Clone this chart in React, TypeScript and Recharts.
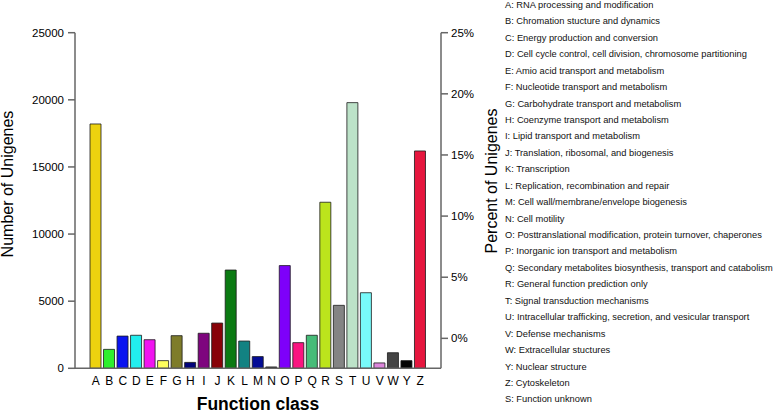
import React from 'react';
import { ComposedChart, Bar, XAxis, YAxis, Cell, Label } from 'recharts';

const categories = ['A', 'B', 'C', 'D', 'E', 'F', 'G', 'H', 'I', 'J', 'K', 'L', 'M', 'N', 'O', 'P', 'Q', 'R', 'S', 'T', 'U', 'V', 'W', 'Y', 'Z'];
const counts = [18200, 1410, 2400, 2460, 2130, 570, 2430, 440, 2610, 3370, 7320, 2030, 870, 100, 7650, 1910, 2460, 12370, 4690, 19790, 5630, 400, 1160, 570, 16190];
const colors = ['#EDD20F', '#2EF02E', '#0A14F0', '#22EEEE', '#F014F0', '#FFFF5C', '#7E7C2A', '#02047A', '#7E057E', '#880208', '#0B7A12', '#128282', '#040C96', '#222222', '#7E00FA', '#FA1480', '#46BC78', '#BCE41C', '#848484', '#BCE2C8', '#78FAFA', '#DC86DC', '#444444', '#050505', '#E6163E'];
const countTicks = [0, 5000, 10000, 15000, 20000, 25000];
const percentTicks = [0, 5, 10, 15, 20, 25];
const descriptions = [
  'A: RNA processing and modification',
  'B: Chromation stucture and dynamics',
  'C: Energy production and conversion',
  'D: Cell cycle control, cell division, chromosome partitioning',
  'E: Amio acid transport and metabolism',
  'F: Nucleotide transport and metabolism',
  'G: Carbohydrate transport and metabolism',
  'H: Coenzyme transport and metabolism',
  'I: Lipid transport and metabolism',
  'J: Translation, ribosomal, and biogenesis',
  'K: Transcription',
  'L: Replication, recombination and repair',
  'M: Cell wall/membrane/envelope biogenesis',
  'N: Cell motility',
  'O: Posttranslational modification, protein turnover, chaperones',
  'P: Inorganic ion transport and metabolism',
  'Q: Secondary metabolites biosynthesis, transport and catabolism',
  'R: General function prediction only',
  'T: Signal transduction mechanisms',
  'U: Intracellular trafficking, secretion, and vesicular transport',
  'V: Defense mechanisms',
  'W: Extracellular stuctures',
  'Y: Nuclear structure',
  'Z: Cytoskeleton',
  'S: Function unknown',
];

const data = categories.map((c, i) => ({ cat: c, count: counts[i] }));

const FONT = '"Liberation Sans", Arial, sans-serif';
const AXIS = '#666666';

const LeftTitle = (props: any) => {
  const vb = props.viewBox || { x: 0, y: 0, width: 0, height: 0 };
  const x = 13;
  const y = vb.y + vb.height / 2 - 16.5;
  return (
    <text x={x} y={y} transform={`rotate(-90, ${x}, ${y})`} textAnchor="middle" fontSize={16} fill="#000" fontFamily={FONT}>
      Number of Unigenes
    </text>
  );
};

const RightTitle = (props: any) => {
  const vb = props.viewBox || { x: 0, y: 0, width: 0, height: 0 };
  const x = vb.x + vb.width - 4;
  const y = vb.y + vb.height / 2 - 19.5;
  return (
    <text x={x} y={y} transform={`rotate(-90, ${x}, ${y})`} textAnchor="middle" fontSize={16} fill="#000" fontFamily={FONT}>
      Percent of Unigenes
    </text>
  );
};

const BottomTitle = (props: any) => {
  const vb = props.viewBox || { x: 0, y: 0, width: 0, height: 0 };
  const x = vb.x + vb.width / 2;
  const y = 409.5;
  return (
    <text x={x} y={y} textAnchor="middle" fontSize={17.5} fontWeight="bold" fill="#000" fontFamily={FONT}>
      Function class
    </text>
  );
};

export default function App() {
  return (
    <div style={{ position: 'absolute', left: 0, top: 0, width: 778, height: 414, background: '#fff', fontFamily: FONT }}>
      <ComposedChart
        width={501}
        height={414}
        data={data}
        margin={{ top: 32.7, right: 0, bottom: 15.7, left: 15 }}
        style={{ fontFamily: FONT }}
      >
        <XAxis
          dataKey="cat"
          interval={0}
          height={30}
          padding={{ left: 14, right: 14 }}
          tickLine={false}
          axisLine={{ stroke: AXIS, strokeWidth: 1.5 }}
          tick={{ fill: '#000', fontSize: 12 }}
        >
          <Label content={<BottomTitle />} />
        </XAxis>
        <YAxis
          yAxisId="left"
          width={60}
          domain={[0, 25000]}
          ticks={countTicks}
          tickSize={7}
          tickMargin={4}
          axisLine={{ stroke: AXIS, strokeWidth: 1.5 }}
          tickLine={{ stroke: AXIS, strokeWidth: 1.5 }}
          tick={{ fill: '#000', fontSize: 11.5 }}
        >
          <Label content={<LeftTitle />} />
        </YAxis>
        <YAxis
          yAxisId="right"
          orientation="right"
          width={60}
          domain={[-2.45, 25]}
          ticks={percentTicks}
          allowDataOverflow
          tickSize={7}
          tickMargin={3}
          tickFormatter={(v: number) => `${v}%`}
          axisLine={{ stroke: AXIS, strokeWidth: 1.5 }}
          tickLine={{ stroke: AXIS, strokeWidth: 1.5 }}
          tick={{ fill: '#000', fontSize: 11.5 }}
        >
          <Label content={<RightTitle />} />
        </YAxis>
        <Bar yAxisId="left" dataKey="count" barSize={11} stroke="#1a1a1a" strokeWidth={0.8} isAnimationActive={false}>
          {data.map((d, i) => (
            <Cell key={d.cat} fill={colors[i]} />
          ))}
        </Bar>
      </ComposedChart>
      <div style={{ position: 'absolute', left: 505, top: -3.1, fontSize: 9.3, lineHeight: '16.43px', color: '#111', whiteSpace: 'nowrap' }}>
        {descriptions.map((t) => (
          <div key={t}>{t}</div>
        ))}
      </div>
    </div>
  );
}
